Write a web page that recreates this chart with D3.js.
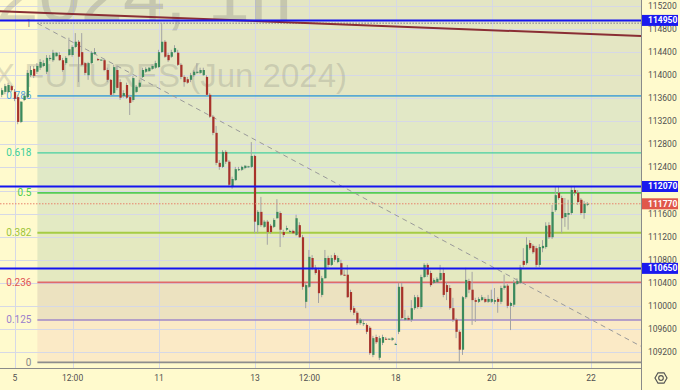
<!DOCTYPE html>
<html>
<head>
<meta charset="utf-8">
<script src="https://cdn.jsdelivr.net/npm/d3@7"></script>
<style>
  html, body { margin: 0; padding: 0; background: #fffacd; }
  svg { display: block; font-family: Roboto, "Liberation Sans", sans-serif; }
</style>
</head>
<body>
<div id="chart"></div>
<script>
// hourly candles
const open = [
  113660,113710,113710,113810,113710,113620,113190,113570,113620,114000,
  114110,114060,114130,114160,114060,114280,114260,114330,114350,114260,
  114210,114350,114350,114490,114580,114400,114210,114000,114210,114370,
  114280,114260,114260,114090,113920,113690,114090,113880,113640,113830,
  113620,113570,113710,113800,113970,114060,114070,114110,114130,114140,
  114400,114580,114350,114320,114400,114390,114180,113970,113930,113920,
  114000,114040,114040,114000,113970,113660,113280,113000,112480,112410,
  112670,112500,112060,112180,112360,112360,112390,112410,112410,112600,
  111400,111630,111370,111460,111390,111370,111520,111610,111280,111320,
  111280,111300,111230,111400,111190,110070,110330,110830,110660,110620,
  110190,110480,110830,110710,110880,110760,110740,110540,110540,110240,
  109960,109880,109700,109690,109670,109620,109150,109460,109100,109360,
  109430,109420,109410,109340,109550,110330,109760,109790,109760,109960,
  110150,109980,110500,110710,110570,110400,110410,110450,110570,110360,
  110310,109960,109760,109550,109240,110150,110430,110280,110100,110070,
  110100,110120,110070,110070,110070,110120,110070,110310,110350,110000,
  110020,110380,110400,110780,110740,111090,111040,111000,110710,111000,
  111020,111400,111190,111660,111960,111870,111540,111580,111610,112010,
  111960,111840,111610,111770
];
const high = [
  113780,113850,113870,113830,113760,113660,113550,113690,114090,114160,
  114160,114210,114280,114260,114350,114350,114440,114400,114400,114300,
  114330,114650,114520,114730,114610,114730,114230,114230,114420,114470,
  114300,114280,114280,114130,113930,114180,114160,113930,113740,113870,
  113660,113990,113830,113920,114130,114140,114140,114190,114250,114440,
  114900,114610,114390,114440,114520,114440,114210,114000,113970,114040,
  114090,114210,114130,114130,114000,113690,113310,113120,112530,112700,
  112700,112530,112240,112410,112410,112430,112440,112430,112840,112620,
  111660,111890,111490,111490,111420,111520,111850,111640,111320,111390,
  111320,111320,111580,111450,111230,110400,110970,110880,110710,110660,
  110520,110970,110870,110880,110920,110870,110800,110620,110710,110280,
  110000,109910,109790,109760,109700,109650,109480,109500,109480,109500,
  109460,109440,109460,109360,110400,110400,109930,109830,110100,110190,
  110190,110540,110740,110740,110610,110480,110500,110710,110660,110410,
  110360,110140,109790,109580,110170,110660,110470,110590,110140,110150,
  110190,110150,110190,110280,110310,110150,110350,110540,110380,110070,
  110450,110480,110710,111000,111190,111140,111070,111040,111070,111140,
  111450,111450,111750,112060,112080,111910,111870,111840,112080,112080,
  112010,111870,111820,111800
];
const low = [
  113620,113670,113690,113710,113550,113150,113170,113550,113600,113970,
  113950,114020,114090,114140,114020,114250,114230,114320,114250,114060,
  114180,114330,114320,114470,113880,114160,114000,113920,114190,114350,
  114250,114250,114070,113880,113640,113660,113740,113570,113610,113590,
  113310,113540,113690,113780,113950,114040,114060,114090,114110,114130,
  114390,114300,114230,114300,114390,114160,113930,113800,113850,113880,
  113970,114020,114020,113990,113640,113260,112960,112440,112360,112390,
  112460,112060,112030,112170,112340,112340,112370,112390,112390,111260,
  111260,111370,111350,111060,111250,111350,111510,111020,111190,111300,
  111260,111250,111210,111180,110280,109960,110310,110620,110540,110050,
  110150,110470,110670,110690,110760,110740,110520,110520,110140,109890,
  109840,109670,109670,109650,109510,109150,109110,109340,109060,109320,
  109410,109410,109390,109320,109510,109760,109740,109740,109720,109930,
  109950,109950,110480,110500,110330,110380,110400,110430,110150,110100,
  109930,109720,109440,109030,109150,110120,110220,109670,109720,110050,
  110090,110050,110050,110050,110030,109880,110030,110280,109960,109580,
  109980,110360,110380,110670,110710,110970,110900,110670,110670,110930,
  110990,111160,111160,111630,111840,111260,111370,111320,111580,111910,
  111750,111580,111510,111730
];
const close = [
  113740,113810,113830,113740,113590,113190,113540,113640,114040,114090,
  113990,114160,114230,114210,114300,114300,114390,114390,114260,114090,
  114300,114450,114490,114580,114320,114180,114040,114210,114390,114400,
  114260,114270,114090,113920,113660,114140,113780,113610,113690,113610,
  113520,113950,113800,113870,114090,114110,114130,114160,114210,114400,
  114580,114320,114260,114400,114470,114180,113970,113880,113870,114000,
  114060,114060,114090,114090,113660,113280,113000,112480,112410,112670,
  112500,112100,112200,112370,112370,112410,112430,112420,112600,111460,
  111630,111400,111460,111280,111280,111490,111630,111320,111230,111350,
  111300,111260,111520,111190,110330,110360,110850,110660,110570,110220,
  110480,110830,110710,110830,110800,110830,110540,110530,110150,109930,
  109880,109700,109760,109700,109550,109180,109440,109370,109440,109460,
  109420,109430,109440,109340,110330,109790,109790,109760,109960,110150,
  109980,110500,110710,110540,110360,110450,110470,110570,110190,110240,
  109960,109760,109550,109240,110150,110450,110280,110100,110070,110120,
  110150,110070,110120,110120,110100,110070,110310,110350,110000,110050,
  110400,110430,110660,110710,111060,111000,110930,110710,111020,111040,
  111390,111190,111630,111920,111870,111520,111610,111610,112010,111960,
  111800,111610,111770,111770
];

const xTickIdx = [4, 22, 49, 79, 96, 123, 153, 184];
const xTickLabels = ["5", "12:00", "11", "13", "12:00", "18", "20", "22"];
const yTicks = d3.range(109200, 115201, 400);

// fibonacci retracement drawn from the high to the low
const fibHigh = 114900, fibLow = 109020;
const fibStartIdx = 11, fibEndIdx = 209;
const fibRatios = [1, 0.786, 0.618, 0.5, 0.382, 0.236, 0.125, 0];
const fibLabels = ["1", "0.786", "0.618", "0.5", "0.382", "0.236", "0.125", "0"];

// manual horizontal levels and the last price
const hLevels = [114950, 112070, 110650];
const lastPrice = 111770;

// maroon trend line
const trendIdx = [-1, 200];
const trendPrice = [115110, 114680];

const W = 680, H = 390;
const paneW = 641, paneH = 368;

const lineColors  = ["#9b9b9b", "#5aaad2", "#45cfa0", "#55cc55", "#a6cc45", "#e06a6a", "#a088c8", "#8c8c8c"];
const labelColors = ["#8a8a8a", "#4da8e0", "#3ccf9c", "#4ccc4c", "#9ec43a", "#e05555", "#9a80cc", "#888888"];
const lineWidths  = [1.5, 1.6, 1.2, 1.6, 2, 1.6, 1.6, 1.6];
const zoneFills   = ["#e4e6c3", "#e2e8c6", "#e0e9c6", "#e3eac3", "#e4e9c0", "#ece2c0", "#fbeac6"];

const N = Math.min(open.length, high.length, low.length, close.length);

const x = d3.scaleLinear().domain([0, 183]).range([2.2, 587.8]);
const y = d3.scaleLinear().domain([109200, 115200]).range([352, 6]);

const svg = d3.select("#chart").append("svg")
  .attr("width", W).attr("height", H);

svg.append("rect").attr("width", W).attr("height", H).attr("fill", "#fffacd");

svg.append("defs").append("clipPath").attr("id", "pane")
  .append("rect").attr("width", paneW).attr("height", paneH);

const pane = svg.append("g").attr("clip-path", "url(#pane)");

// fib zone fills
const fibPrice = (r) => fibLow + r * (fibHigh - fibLow);
const fx0 = x(fibStartIdx);
pane.append("rect")
  .attr("x", fx0).attr("y", 0)
  .attr("width", paneW - fx0).attr("height", y(fibPrice(1)))
  .attr("fill", zoneFills[0]);
pane.selectAll(".zone").data(d3.pairs(fibRatios)).enter().append("rect")
  .attr("x", fx0)
  .attr("y", (d) => y(fibPrice(d[0])))
  .attr("width", paneW - fx0)
  .attr("height", (d) => y(fibPrice(d[1])) - y(fibPrice(d[0])))
  .attr("fill", (d, i) => zoneFills[i]);

// grid
pane.selectAll(".hgrid").data(yTicks).enter().append("line")
  .attr("x1", 0).attr("x2", paneW)
  .attr("y1", (d) => Math.round(y(d)) + 0.5).attr("y2", (d) => Math.round(y(d)) + 0.5)
  .attr("stroke", "#d6d8e6").attr("stroke-width", 1);
pane.selectAll(".vgrid").data(xTickIdx).enter().append("line")
  .attr("x1", (d) => Math.round(x(d)) + 0.5).attr("x2", (d) => Math.round(x(d)) + 0.5)
  .attr("y1", 0).attr("y2", paneH)
  .attr("stroke", "#d6d8e6").attr("stroke-width", 1);

// watermark
pane.append("text")
  .attr("x", 292).attr("y", 21)
  .attr("text-anchor", "end")
  .style("font-family", "'Liberation Sans', Arial, sans-serif")
  .style("font-size", "76px")
  .attr("fill", "#707070").attr("fill-opacity", 0.26)
  .text("RIM2024, 1h");
pane.append("text")
  .attr("x", 347).attr("y", 87)
  .attr("text-anchor", "end")
  .style("font-family", "'Liberation Sans', Arial, sans-serif")
  .style("font-size", "33px")
  .attr("fill", "#707070").attr("fill-opacity", 0.22)
  .text("RTS INDEX FUTURES (Jun 2024)");

// fib level lines
pane.selectAll(".lvl").data(fibRatios).enter().append("line")
  .attr("x1", fx0).attr("x2", paneW)
  .attr("y1", (d) => y(fibPrice(d))).attr("y2", (d) => y(fibPrice(d)))
  .attr("stroke", (d, i) => lineColors[i])
  .attr("stroke-width", (d, i) => lineWidths[i])
  .attr("stroke-dasharray", (d, i) => i === 0 ? "1.5,1.5" : null);

pane.selectAll(".lvlLabel").data(fibRatios).enter().append("text")
  .attr("x", fx0 - 6)
  .attr("y", (d) => y(fibPrice(d)) + 3.5)
  .attr("text-anchor", "end")
  .style("font-size", "10px")
  .attr("fill", (d, i) => labelColors[i])
  .text((d, i) => fibLabels[i]);

// fib diagonal
pane.append("line")
  .attr("x1", x(fibStartIdx)).attr("y1", y(fibHigh))
  .attr("x2", x(fibEndIdx)).attr("y2", y(fibLow))
  .attr("stroke", "#9a9a9a").attr("stroke-width", 1)
  .attr("stroke-dasharray", "5,4");

// candles
const idx = d3.range(N);
const candles = pane.selectAll(".candle").data(idx).enter().append("g");
candles.append("line")
  .attr("x1", (i) => x(i) - 0.5).attr("x2", (i) => x(i) - 0.5)
  .attr("y1", (i) => y(high[i])).attr("y2", (i) => y(low[i]))
  .attr("stroke", "#a3a3a3").attr("stroke-width", 1);
candles.append("rect")
  .attr("x", (i) => x(i) - 1.1)
  .attr("width", 2.2)
  .attr("y", (i) => y(Math.max(open[i], close[i])))
  .attr("height", (i) => Math.max(1, Math.abs(y(open[i]) - y(close[i]))))
  .attr("fill", (i) => close[i] >= open[i] ? "#3b8a5c" : "#a8322a");

// trend line
pane.append("line")
  .attr("x1", x(trendIdx[0])).attr("y1", y(trendPrice[0]))
  .attr("x2", x(trendIdx[1])).attr("y2", y(trendPrice[1]))
  .attr("stroke", "#8a2e34").attr("stroke-width", 2);

// horizontal levels
pane.selectAll(".hl").data(hLevels).enter().append("line")
  .attr("x1", 0).attr("x2", paneW)
  .attr("y1", (d) => y(d)).attr("y2", (d) => y(d))
  .attr("stroke", "#1414f0").attr("stroke-width", 2);

pane.append("line")
  .attr("x1", 0).attr("x2", paneW)
  .attr("y1", y(lastPrice)).attr("y2", y(lastPrice))
  .attr("stroke", "#e8826a").attr("stroke-width", 1)
  .attr("stroke-dasharray", "1.5,1.5");

// axes frame
svg.append("line").attr("x1", paneW + 0.5).attr("x2", paneW + 0.5)
  .attr("y1", 0).attr("y2", H).attr("stroke", "#8a8a8a");
svg.append("line").attr("x1", 0).attr("x2", paneW)
  .attr("y1", paneH + 0.5).attr("y2", paneH + 0.5).attr("stroke", "#8a8a8a");

// price axis labels, hidden where a marker box sits
const boxes = hLevels.concat([lastPrice]);
const shown = yTicks.filter((t) => d3.min(boxes, (b) => Math.abs(y(b) - y(t))) > 8);
svg.selectAll(".ytl").data(shown).enter().append("text")
  .attr("x", 648).attr("y", (d) => y(d) + 3)
  .style("font-size", "8.5px")
  .attr("fill", "#505050")
  .text((d) => d);

const markers = hLevels.map((p) => ({ p, c: "#1a1aee" })).concat([{ p: lastPrice, c: "#e0574a" }]);
const mk = svg.selectAll(".mk").data(markers).enter().append("g");
mk.append("rect")
  .attr("x", paneW + 1).attr("y", (d) => y(d.p) - 5.5)
  .attr("width", 36).attr("height", 11)
  .attr("fill", (d) => d.c);
mk.append("text")
  .attr("x", 648).attr("y", (d) => y(d.p) + 3)
  .style("font-size", "8.5px").style("font-weight", "bold")
  .attr("fill", "#fff")
  .text((d) => d.p);

// time axis labels
svg.selectAll(".xtl").data(xTickIdx).enter().append("text")
  .attr("x", (d) => x(d)).attr("y", 381)
  .attr("text-anchor", "middle")
  .style("font-size", "8.5px")
  .attr("fill", "#505050")
  .text((d, i) => xTickLabels[i]);

// settings gear
const gear = svg.append("g").attr("transform", "translate(661,378)");
gear.append("path")
  .attr("d", d3.range(6).map((k) => {
    const a = Math.PI / 3 * k;
    return (k ? "L" : "M") + (6 * Math.cos(a)).toFixed(2) + "," + (6 * Math.sin(a)).toFixed(2);
  }).join("") + "Z")
  .attr("fill", "none").attr("stroke", "#555").attr("stroke-width", 1.2);
gear.append("circle").attr("r", 2.3).attr("fill", "none").attr("stroke", "#555").attr("stroke-width", 1.2);
</script>
</body>
</html>
